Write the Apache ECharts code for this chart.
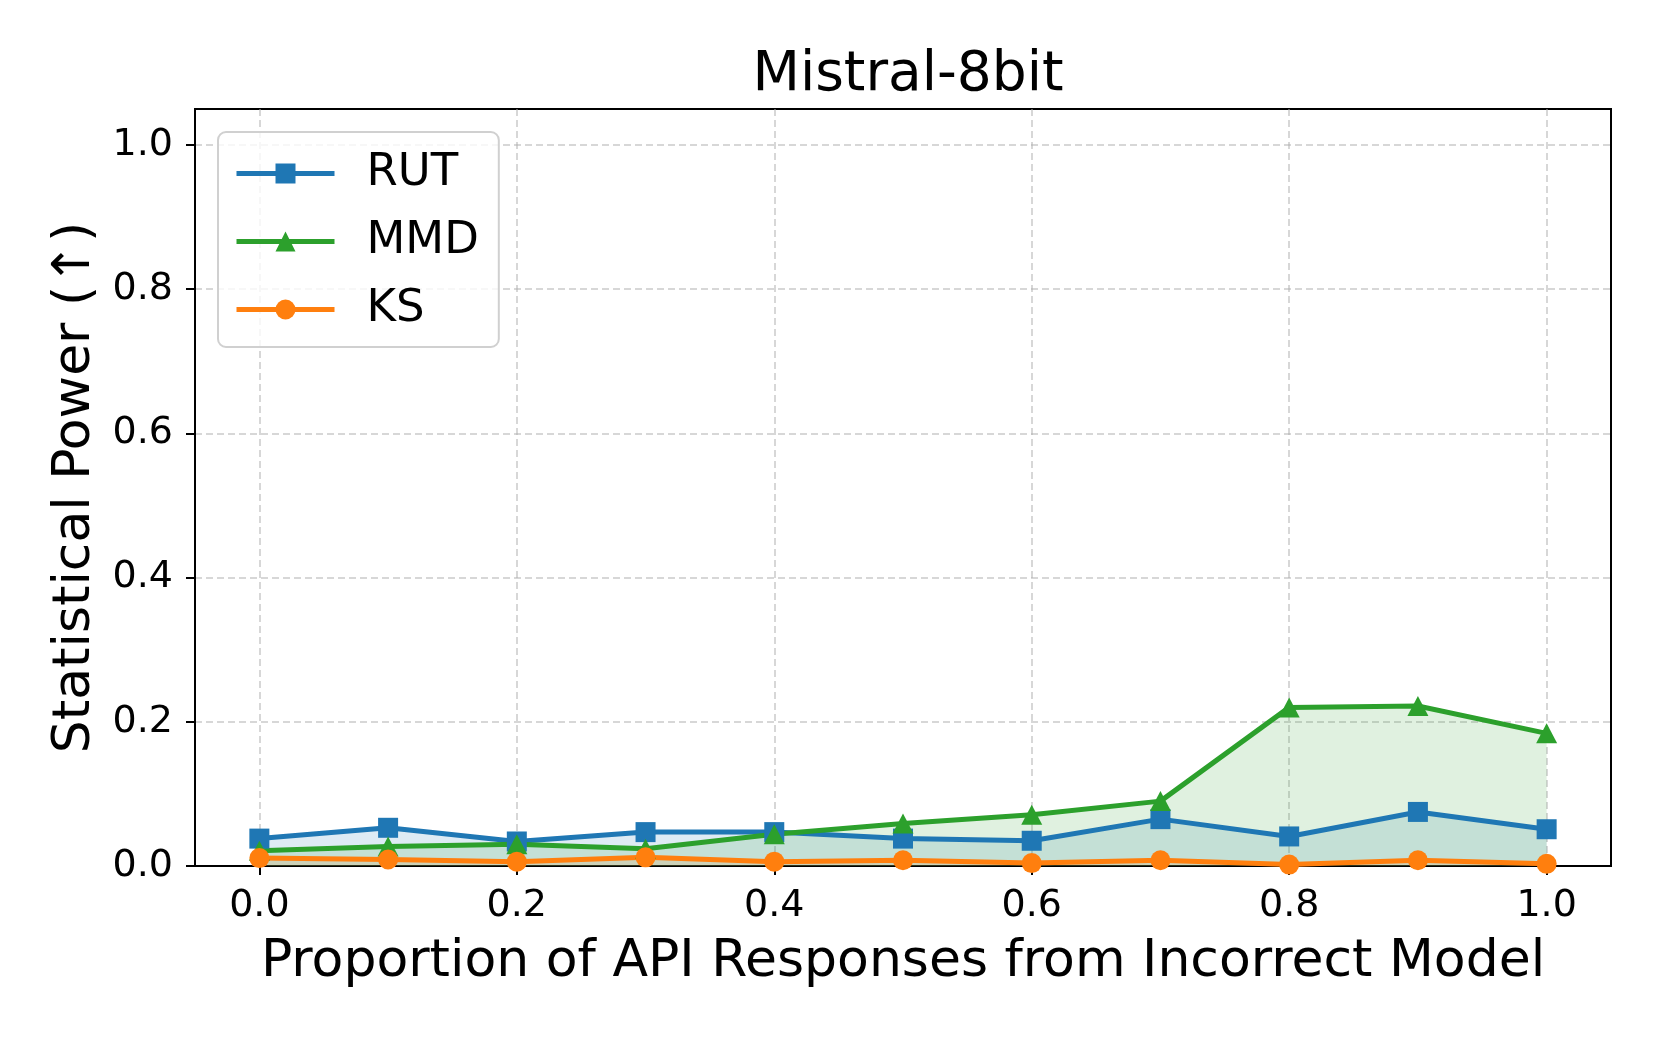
<!DOCTYPE html>
<html>
<head>
<meta charset="utf-8">
<script src="https://cdn.jsdelivr.net/npm/echarts@6/dist/echarts.min.js"></script>
<style>
html,body{margin:0;padding:0;background:#fff;}
#chart{width:1661px;height:1038px;}
</style>
</head>
<body>
<div id="chart"></div>
<script>
var proportions = [0.0, 0.1, 0.2, 0.3, 0.4, 0.5, 0.6, 0.7, 0.8, 0.9, 1.0];
var rutValues = [0.038, 0.053, 0.034, 0.047, 0.047, 0.038, 0.035, 0.065, 0.041, 0.075, 0.051];
var mmdValues = [0.021, 0.027, 0.030, 0.024, 0.044, 0.059, 0.071, 0.090, 0.220, 0.222, 0.184];
var ksValues  = [0.011, 0.009, 0.006, 0.012, 0.006, 0.008, 0.004, 0.008, 0.002, 0.008, 0.003];
var xTicks = [0.0, 0.2, 0.4, 0.6, 0.8, 1.0];
var yTicks = [0.0, 0.2, 0.4, 0.6, 0.8, 1.0];

function pairs(vals){ return proportions.map(function(x,i){ return [x, vals[i]]; }); }

var FONT = 'DejaVu Sans';
var chart = echarts.init(document.getElementById('chart'));

function mkSeries(name, vals, color, symbol, size){
  return {
    name: name, type: 'line', data: pairs(vals),
    symbol: symbol, symbolSize: size, showSymbol: true,
    lineStyle: {color: color, width: 5},
    itemStyle: {color: color},
    areaStyle: {color: color, opacity: 0.15},
    emphasis: {disabled: true}
  };
}

var gridLine = {show: true, lineStyle: {color: '#b0b0b0', opacity: 0.5, width: 2, type: [7, 4]}};

chart.setOption({
  animation: false,
  backgroundColor: '#fff',
  title: {
    text: 'Mistral-8bit', left: 903, top: 43, textAlign: 'center',
    textStyle: {fontFamily: FONT, fontSize: 55, fontWeight: 'normal', color: '#000'}
  },
  grid: {left: 195, right: 50, top: 109, bottom: 172, show: true, borderColor: '#000', borderWidth: 2, backgroundColor: 'transparent', containLabel: false},
  legend: {
    orient: 'vertical', left: 218, top: 132,
    itemWidth: 98, itemHeight: 25, itemGap: 23,
    padding: [19, 20, 15, 16],
    backgroundColor: 'rgba(255,255,255,0.8)',
    borderColor: '#d0d0d0', borderWidth: 2, borderRadius: 8,
    lineStyle: {width: 5},
    textStyle: {fontFamily: FONT, fontSize: 45, lineHeight: 45, color: '#000', padding: [0, 0, 0, 27]},
    data: ['RUT', 'MMD', 'KS']
  },
  xAxis: {
    type: 'value', min: -0.05, max: 1.05,
    name: 'Proportion of API Responses from Incorrect Model',
    nameLocation: 'middle', nameGap: 70,
    nameTextStyle: {fontFamily: FONT, fontSize: 52, color: '#000'},
    axisLine: {show: true, onZero: false, lineStyle: {color: '#000', width: 2}},
    axisTick: {show: true, inside: false, length: 9, lineStyle: {color: '#000', width: 2}, customValues: xTicks},
    axisLabel: {fontFamily: FONT, fontSize: 38, color: '#000', margin: 21, customValues: xTicks, formatter: function(v){ return v.toFixed(1); }},
    splitLine: gridLine
  },
  yAxis: {
    type: 'value', min: 0, max: 1.05,
    name: 'Statistical Power (\u2191)',
    nameLocation: 'middle', nameGap: 94,
    nameTextStyle: {fontFamily: FONT, fontSize: 52, color: '#000'},
    axisLine: {show: true, onZero: false, lineStyle: {color: '#000', width: 2}},
    axisTick: {show: true, inside: false, length: 9, lineStyle: {color: '#000', width: 2}, customValues: yTicks},
    axisLabel: {fontFamily: FONT, fontSize: 38, color: '#000', margin: 22, customValues: yTicks, formatter: function(v){ return v.toFixed(1); }},
    splitLine: gridLine
  },
  series: [
    mkSeries('RUT', rutValues, '#1f77b4', 'rect', 20),
    mkSeries('MMD', mmdValues, '#2ca02c', 'triangle', [21, 20]),
    mkSeries('KS', ksValues, '#ff7f0e', 'circle', 20)
  ]
});
</script>
</body>
</html>
